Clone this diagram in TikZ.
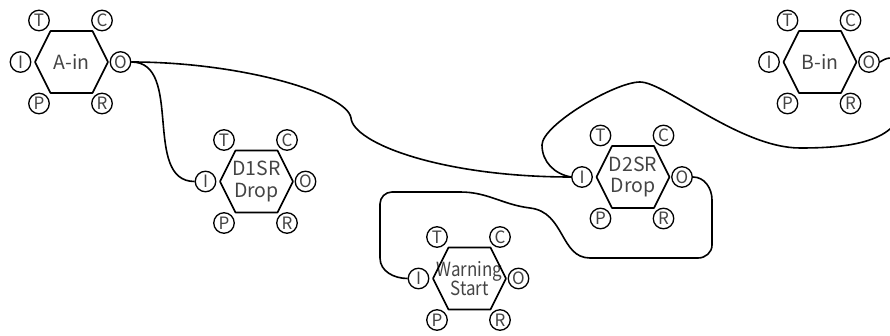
\documentclass[tikz,border=0pt]{standalone}
\usepackage{fontspec}
\usepackage{tikz}
\usetikzlibrary{calc}
\newfontfamily\gothic{Noto Sans CJK JP}
\newfontfamily\gothicnarrow[FakeStretch=0.87]{Noto Sans CJK JP}
\definecolor{labelgray}{RGB}{68,68,68}

\begin{document}
\begin{tikzpicture}[
    x=1pt, y=1pt,
    hexlabel/.style={align=center, inner sep=0pt, text=labelgray, font=\gothic\fontsize{19.5}{21.5}\selectfont},
    hexline/.style={line width=1.6pt, line join=round},
    portnode/.style={draw, circle, line width=1.3pt, minimum size=20.5pt, inner sep=0pt, fill=white, text=labelgray, font=\gothic\fontsize{17}{17}\selectfont},
    wire/.style={line width=1.6pt},
]
    \useasboundingbox (0,0) rectangle (890,-336);
    \clip (0,0) rectangle (890,-336);

    % devices: hexagon body with six ports around it
    \foreach \dev/\x/\y/\txt in {ain/71.5/-62/A-in, d1/256.5/-181.5/{D1SR\\Drop}, d2/633/-177/{D2SR\\Drop}, warn/469.5/-278.5/{\gothicnarrow Warning\\[-2pt]\gothicnarrow Start}, bin/820/-62/B-in} {
        \node[hexlabel] (\dev) at (\x,\y) {\txt};
        \draw[hexline, shift={(\dev)}] (-36.5,0) -- (-21,31) -- (21,31) -- (36.5,0) -- (21,-31) -- (-21,-31) -- cycle;
        \foreach \p/\dx/\dy in {T/-32.5/41.5, C/30.5/41.5, I/-51/0, O/49/0, P/-32.5/-41.5, R/30.5/-41.5}
            \node[portnode] (\dev-\p) at ($(\dev)+(\dx,\dy)$) {\p};
    }

    \coordinate (dip) at (351,-118);

    % A-in output
    \draw[wire] (ain-O.east) to[out=0, in=180] (d1-I.west);
    \draw[wire] (ain-O.east) .. controls +(109,0) and +(-4,25) .. (dip)
        .. controls +(2,-25) and +(-130,0) .. (d2-I.west);

    % D2SR output loops back round to Warning Start
    \draw[wire] (d2-O.east) to[out=0, in=90] (712,-200) -- (712,-245)
        to[out=-90, in=0] (698,-258) -- (590,-258)
        .. controls (560,-258) and (565,-212) .. (530,-208)
        to[out=173, in=0] (460,-192) -- (392,-192)
        to[out=180, in=90] (380,-204) -- (380,-258)
        to[out=-90, in=180] (warn-I.west);

    % D2SR input over the top to B-in
    \draw[wire] (d2-I.west) to[out=170, in=-90] (542,-145)
        .. controls (542,-125) and (615,-82) .. (640,-82)
        .. controls (665,-82) and (740,-148) .. (800,-148)
        .. controls (844,-148) and (903,-144) .. (903,-100)
        .. controls (903,-60) and (895,-52) .. (bin-O.east);
\end{tikzpicture}
\end{document}
